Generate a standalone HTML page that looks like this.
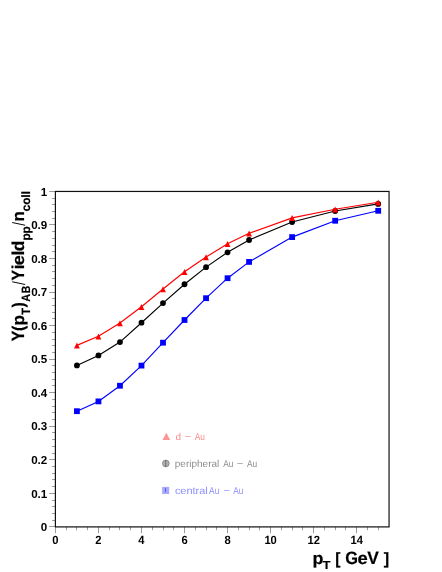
<!DOCTYPE html><html><head><meta charset="utf-8"><style>html,body{margin:0;padding:0;background:#fff}svg{display:block;text-rendering:geometricPrecision;will-change:transform;transform:translateZ(0)}text{font-family:"Liberation Sans",sans-serif}</style></head><body>
<svg width="442" height="572" viewBox="0 0 442 572">
<rect width="442" height="572" fill="#fff"/><g>
<path d="M55.50 526.9v6.3 M66.50 526.9v3.3 M76.50 526.9v3.3 M87.50 526.9v3.3 M98.50 526.9v6.3 M109.50 526.9v3.3 M119.50 526.9v3.3 M130.50 526.9v3.3 M141.50 526.9v6.3 M152.50 526.9v3.3 M163.50 526.9v3.3 M173.50 526.9v3.3 M184.50 526.9v6.3 M195.50 526.9v3.3 M206.50 526.9v3.3 M216.50 526.9v3.3 M227.50 526.9v6.3 M238.50 526.9v3.3 M249.50 526.9v3.3 M259.50 526.9v3.3 M270.50 526.9v6.3 M281.50 526.9v3.3 M292.50 526.9v3.3 M302.50 526.9v3.3 M313.50 526.9v6.3 M324.50 526.9v3.3 M335.50 526.9v3.3 M345.50 526.9v3.3 M356.50 526.9v6.3 M367.50 526.9v3.3 M378.50 526.9v3.3 M55.4 526.50h-6.3 M55.4 520.50h-3.3 M55.4 513.50h-3.3 M55.4 506.50h-3.3 M55.4 500.50h-3.3 M55.4 493.50h-6.3 M55.4 486.50h-3.3 M55.4 479.50h-3.3 M55.4 473.50h-3.3 M55.4 466.50h-3.3 M55.4 459.50h-6.3 M55.4 453.50h-3.3 M55.4 446.50h-3.3 M55.4 439.50h-3.3 M55.4 432.50h-3.3 M55.4 426.50h-6.3 M55.4 419.50h-3.3 M55.4 412.50h-3.3 M55.4 406.50h-3.3 M55.4 399.50h-3.3 M55.4 392.50h-6.3 M55.4 385.50h-3.3 M55.4 379.50h-3.3 M55.4 372.50h-3.3 M55.4 365.50h-3.3 M55.4 359.50h-6.3 M55.4 352.50h-3.3 M55.4 345.50h-3.3 M55.4 339.50h-3.3 M55.4 332.50h-3.3 M55.4 325.50h-6.3 M55.4 318.50h-3.3 M55.4 312.50h-3.3 M55.4 305.50h-3.3 M55.4 298.50h-3.3 M55.4 292.50h-6.3 M55.4 285.50h-3.3 M55.4 278.50h-3.3 M55.4 271.50h-3.3 M55.4 265.50h-3.3 M55.4 258.50h-6.3 M55.4 251.50h-3.3 M55.4 245.50h-3.3 M55.4 238.50h-3.3 M55.4 231.50h-3.3 M55.4 224.50h-6.3 M55.4 218.50h-3.3 M55.4 211.50h-3.3 M55.4 204.50h-3.3 M55.4 198.50h-3.3 M55.4 191.50h-6.3" stroke="#000" stroke-width="0.4" fill="none"/>
<rect x="55.4" y="191.45" width="333.65" height="335.45" fill="none" stroke="#111" stroke-width="1.2"/>
<polyline points="76.92,365.45 98.44,355.40 119.96,342.10 141.48,322.70 163.00,303.10 184.52,284.25 206.04,267.15 227.56,252.30 249.08,240.00 292.12,222.00 335.16,211.00 378.20,203.90" fill="none" stroke="#000" stroke-width="1.15"/>
<circle cx="76.92" cy="365.45" r="2.9" fill="#000"/>
<circle cx="98.44" cy="355.40" r="2.9" fill="#000"/>
<circle cx="119.96" cy="342.10" r="2.9" fill="#000"/>
<circle cx="141.48" cy="322.70" r="2.9" fill="#000"/>
<circle cx="163.00" cy="303.10" r="2.9" fill="#000"/>
<circle cx="184.52" cy="284.25" r="2.9" fill="#000"/>
<circle cx="206.04" cy="267.15" r="2.9" fill="#000"/>
<circle cx="227.56" cy="252.30" r="2.9" fill="#000"/>
<circle cx="249.08" cy="240.00" r="2.9" fill="#000"/>
<circle cx="292.12" cy="222.00" r="2.9" fill="#000"/>
<circle cx="335.16" cy="211.00" r="2.9" fill="#000"/>
<circle cx="378.20" cy="203.90" r="2.9" fill="#000"/>
<polyline points="76.92,411.20 98.44,401.40 119.96,385.75 141.48,365.60 163.00,342.70 184.52,320.00 206.04,298.20 227.56,278.20 249.08,261.90 292.12,237.10 335.16,220.75 378.20,210.80" fill="none" stroke="#00f" stroke-width="1.15"/>
<rect x="74.02" y="408.30" width="5.8" height="5.8" fill="#00f"/>
<rect x="95.54" y="398.50" width="5.8" height="5.8" fill="#00f"/>
<rect x="117.06" y="382.85" width="5.8" height="5.8" fill="#00f"/>
<rect x="138.58" y="362.70" width="5.8" height="5.8" fill="#00f"/>
<rect x="160.10" y="339.80" width="5.8" height="5.8" fill="#00f"/>
<rect x="181.62" y="317.10" width="5.8" height="5.8" fill="#00f"/>
<rect x="203.14" y="295.30" width="5.8" height="5.8" fill="#00f"/>
<rect x="224.66" y="275.30" width="5.8" height="5.8" fill="#00f"/>
<rect x="246.18" y="259.00" width="5.8" height="5.8" fill="#00f"/>
<rect x="289.22" y="234.20" width="5.8" height="5.8" fill="#00f"/>
<rect x="332.26" y="217.85" width="5.8" height="5.8" fill="#00f"/>
<rect x="375.30" y="207.90" width="5.8" height="5.8" fill="#00f"/>
<polyline points="76.92,345.40 98.44,336.30 119.96,322.95 141.48,306.75 163.00,289.05 184.52,271.75 206.04,257.10 227.56,243.80 249.08,233.30 292.12,217.90 335.16,209.25 378.20,202.30" fill="none" stroke="#f00" stroke-width="1.15"/>
<path d="M74.02 348.60L79.82 348.60L76.92 342.60Z" fill="#f00"/>
<path d="M95.54 339.50L101.34 339.50L98.44 333.50Z" fill="#f00"/>
<path d="M117.06 326.15L122.86 326.15L119.96 320.15Z" fill="#f00"/>
<path d="M138.58 309.95L144.38 309.95L141.48 303.95Z" fill="#f00"/>
<path d="M160.10 292.25L165.90 292.25L163.00 286.25Z" fill="#f00"/>
<path d="M181.62 274.95L187.42 274.95L184.52 268.95Z" fill="#f00"/>
<path d="M203.14 260.30L208.94 260.30L206.04 254.30Z" fill="#f00"/>
<path d="M224.66 247.00L230.46 247.00L227.56 241.00Z" fill="#f00"/>
<path d="M246.18 236.50L251.98 236.50L249.08 230.50Z" fill="#f00"/>
<path d="M289.22 221.10L295.02 221.10L292.12 215.10Z" fill="#f00"/>
<path d="M332.26 212.45L338.06 212.45L335.16 206.45Z" fill="#f00"/>
<path d="M375.30 205.50L381.10 205.50L378.20 199.50Z" fill="#f00"/>
<text x="47.3" y="531.10" font-size="11.6" font-weight="bold" text-anchor="end">0</text>
<text x="47.3" y="497.55" font-size="11.6" font-weight="bold" text-anchor="end">0.1</text>
<text x="47.3" y="464.00" font-size="11.6" font-weight="bold" text-anchor="end">0.2</text>
<text x="47.3" y="430.45" font-size="11.6" font-weight="bold" text-anchor="end">0.3</text>
<text x="47.3" y="396.90" font-size="11.6" font-weight="bold" text-anchor="end">0.4</text>
<text x="47.3" y="363.35" font-size="11.6" font-weight="bold" text-anchor="end">0.5</text>
<text x="47.3" y="329.80" font-size="11.6" font-weight="bold" text-anchor="end">0.6</text>
<text x="47.3" y="296.25" font-size="11.6" font-weight="bold" text-anchor="end">0.7</text>
<text x="47.3" y="262.70" font-size="11.6" font-weight="bold" text-anchor="end">0.8</text>
<text x="47.3" y="229.15" font-size="11.6" font-weight="bold" text-anchor="end">0.9</text>
<text x="47.3" y="195.60" font-size="11.6" font-weight="bold" text-anchor="end">1</text>
<text transform="translate(55.40,543.5) scale(0.94,1)" font-size="11.9" font-weight="bold" text-anchor="middle">0</text>
<text transform="translate(98.44,543.5) scale(0.94,1)" font-size="11.9" font-weight="bold" text-anchor="middle">2</text>
<text transform="translate(141.48,543.5) scale(0.94,1)" font-size="11.9" font-weight="bold" text-anchor="middle">4</text>
<text transform="translate(184.52,543.5) scale(0.94,1)" font-size="11.9" font-weight="bold" text-anchor="middle">6</text>
<text transform="translate(227.56,543.5) scale(0.94,1)" font-size="11.9" font-weight="bold" text-anchor="middle">8</text>
<text transform="translate(270.60,543.5) scale(0.94,1)" font-size="11.9" font-weight="bold" text-anchor="middle">10</text>
<text transform="translate(313.64,543.5) scale(0.94,1)" font-size="11.9" font-weight="bold" text-anchor="middle">12</text>
<text transform="translate(356.68,543.5) scale(0.94,1)" font-size="11.9" font-weight="bold" text-anchor="middle">14</text>
<text transform="translate(312.62,563.90) scale(1.051,1)" font-size="17.0" font-weight="bold" stroke="#000" stroke-width="0.2">p</text>
<text transform="translate(322.66,569.20) scale(1.076,1)" font-size="11.6" font-weight="bold" stroke="#000" stroke-width="0.2">T</text>
<text transform="translate(335.23,563.90) scale(0.945,1)" font-size="16.4" font-weight="bold" stroke="#000" stroke-width="0.2">[</text>
<text transform="translate(345.33,563.90) scale(0.915,1)" font-size="17.9" font-weight="bold" stroke="#000" stroke-width="0.2">G</text>
<text transform="translate(357.48,563.90) scale(1.084,1)" font-size="17.0" font-weight="bold" stroke="#000" stroke-width="0.2">e</text>
<text transform="translate(367.33,563.90) scale(0.971,1)" font-size="17.9" font-weight="bold" stroke="#000" stroke-width="0.2">V</text>
<text transform="translate(383.65,563.90) scale(0.991,1)" font-size="16.4" font-weight="bold" stroke="#000" stroke-width="0.2">]</text>
<text transform="translate(24.25,341.37) rotate(-90) scale(0.891,1)" font-size="17.7" font-weight="bold" stroke="#000" stroke-width="0.2">Y</text>
<text transform="translate(24.25,330.98) rotate(-90) scale(0.923,1)" font-size="16.9" font-weight="bold" stroke="#000" stroke-width="0.2">(</text>
<text transform="translate(24.25,325.52) rotate(-90) scale(1.010,1)" font-size="16.9" font-weight="bold" stroke="#000" stroke-width="0.2">p</text>
<text transform="translate(30.30,314.73) rotate(-90) scale(0.934,1)" font-size="12.0" font-weight="bold" stroke="#000" stroke-width="0.2">T</text>
<text transform="translate(24.25,307.62) rotate(-90) scale(0.923,1)" font-size="16.9" font-weight="bold" stroke="#000" stroke-width="0.2">)</text>
<text transform="translate(30.30,301.87) rotate(-90) scale(0.901,1)" font-size="12.0" font-weight="bold" stroke="#000" stroke-width="0.2">A</text>
<text transform="translate(30.30,293.15) rotate(-90) scale(0.868,1)" font-size="12.0" font-weight="bold" stroke="#000" stroke-width="0.2">B</text>
<text transform="translate(24.25,280.47) rotate(-90) scale(0.891,1)" font-size="17.7" font-weight="bold" stroke="#000" stroke-width="0.2">Y</text>
<text transform="translate(24.25,269.27) rotate(-90) scale(0.975,1)" font-size="17.2" font-weight="bold" stroke="#000" stroke-width="0.2">i</text>
<text transform="translate(24.25,265.31) rotate(-90) scale(1.078,1)" font-size="16.9" font-weight="bold" stroke="#000" stroke-width="0.2">e</text>
<text transform="translate(24.25,255.42) rotate(-90) scale(1.017,1)" font-size="17.2" font-weight="bold" stroke="#000" stroke-width="0.2">l</text>
<text transform="translate(24.25,251.37) rotate(-90) scale(1.021,1)" font-size="17.2" font-weight="bold" stroke="#000" stroke-width="0.2">d</text>
<text transform="translate(30.30,240.57) rotate(-90) scale(0.976,1)" font-size="12.0" font-weight="bold" stroke="#000" stroke-width="0.2">p</text>
<text transform="translate(30.30,233.47) rotate(-90) scale(0.976,1)" font-size="12.0" font-weight="bold" stroke="#000" stroke-width="0.2">p</text>
<text transform="translate(24.25,221.51) rotate(-90) scale(0.993,1)" font-size="16.9" font-weight="bold" stroke="#000" stroke-width="0.2">n</text>
<text transform="translate(30.30,211.57) rotate(-90) scale(1.008,1)" font-size="12.0" font-weight="bold" stroke="#000" stroke-width="0.2">c</text>
<text transform="translate(30.30,204.86) rotate(-90) scale(0.986,1)" font-size="12.0" font-weight="bold" stroke="#000" stroke-width="0.2">o</text>
<text transform="translate(30.30,197.67) rotate(-90) scale(1.033,1)" font-size="12.0" font-weight="bold" stroke="#000" stroke-width="0.2">l</text>
<text transform="translate(30.30,194.57) rotate(-90) scale(1.033,1)" font-size="12.0" font-weight="bold" stroke="#000" stroke-width="0.2">l</text>
<text transform="translate(24.55,285.00) rotate(-90) scale(0.773,1)" font-size="17.7" font-weight="normal" stroke="#000" stroke-width="0">/</text>
<text transform="translate(24.55,225.80) rotate(-90) scale(0.773,1)" font-size="17.7" font-weight="normal" stroke="#000" stroke-width="0">/</text>
<path d="M162.5 439.9L170.2 439.9L166.35 432.8Z" fill="#f00" fill-opacity="0.42"/>
<circle cx="165.85" cy="463.45" r="3.7" fill="#000" fill-opacity="0.3"/><circle cx="165.85" cy="463.45" r="3.3" fill="none" stroke="#000" stroke-opacity="0.22" stroke-width="0.9"/><path d="M165.75 460.3V466.6" stroke="#000" stroke-opacity="0.45" stroke-width="0.9"/>
<rect x="162.1" y="486.9" width="7.1" height="7.1" fill="#00f" fill-opacity="0.34"/><path d="M165.5 487.9V492.2" stroke="#00f" stroke-opacity="0.45" stroke-width="1"/>
<text y="439.8" font-size="10" fill="#f00" fill-opacity="0.47"><tspan x="175.4" dy="0">d</tspan><tspan x="184.9" dy="-0.8">–</tspan><tspan x="194.8" dy="0.8" textLength="10.2" lengthAdjust="spacingAndGlyphs">Au</tspan></text>
<text y="466.7" font-size="10" fill="#000" fill-opacity="0.47"><tspan x="174.8" dy="0">peripheral</tspan><tspan x="223.3" dy="0" textLength="10.2" lengthAdjust="spacingAndGlyphs">Au</tspan><tspan x="237.3" dy="-0.8">–</tspan><tspan x="247.0" dy="0.8" textLength="10.2" lengthAdjust="spacingAndGlyphs">Au</tspan></text>
<text y="493.9" font-size="10" fill="#00f" fill-opacity="0.47"><tspan x="174.9" dy="0" textLength="32.9" lengthAdjust="spacingAndGlyphs">central</tspan><tspan x="209.1" dy="0" textLength="10.2" lengthAdjust="spacingAndGlyphs">Au</tspan><tspan x="224.0" dy="-0.8">–</tspan><tspan x="233.3" dy="0.8" textLength="10.2" lengthAdjust="spacingAndGlyphs">Au</tspan></text>
</g></svg></body></html>
